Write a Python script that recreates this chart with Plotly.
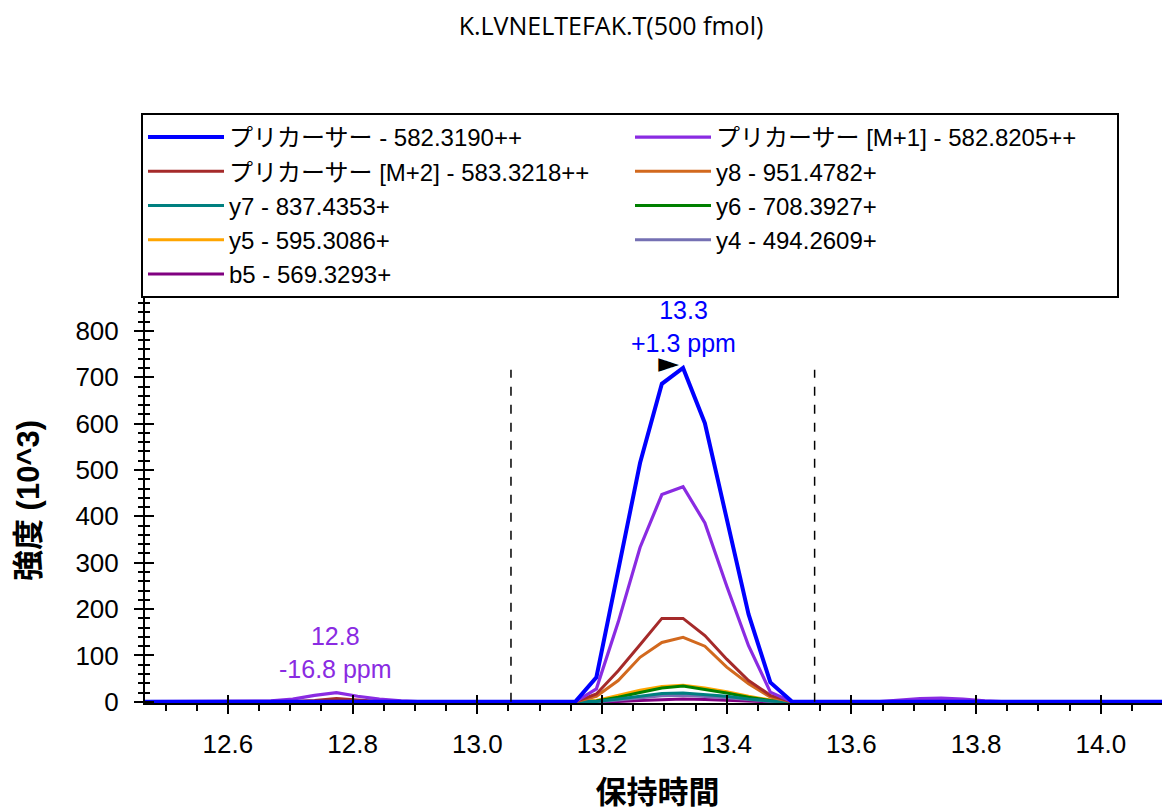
import plotly.graph_objects as go

times = [12.40, 12.669, 12.704, 12.739, 12.774, 12.808, 12.843, 12.878, 12.913,
         13.157, 13.191, 13.226, 13.261, 13.296, 13.330, 13.365, 13.400, 13.435,
         13.470, 13.505, 13.640, 13.675, 13.710, 13.744, 13.779, 13.814, 13.849, 14.20]

precursor = [0, 0, 0, 0, 0, 0, 0, 0, 0,
             0, 53, 279, 515, 686, 720, 601, 393, 189,
             42, 0, 0, 0, 0, 0, 0, 0, 0, 0]
precursor_m1 = [0, 2, 6, 14, 20, 12, 6, 2, 0,
                0, 28, 172, 333, 447, 464, 386, 250, 121,
                21, 0, 0, 3, 7, 8, 6, 2, 0, 0]
precursor_m2 = [0, 0, 1, 3, 7, 4, 1, 0, 0,
                0, 17, 67, 123, 180, 180, 143, 92, 46,
                14, 0, 0, 0, 1, 1, 1, 0, 0, 0]
y8 = [0, 0, 0, 0, 0, 0, 0, 0, 0,
      0, 12, 46, 96, 128, 139, 120, 75, 39,
      10, 0, 0, 0, 0, 0, 0, 0, 0, 0]
y7 = [0, 0, 0, 0, 0, 0, 0, 0, 0,
      0, 1, 6, 12, 18, 19, 16, 12, 6,
      2, 0, 0, 0, 0, 0, 0, 0, 0, 0]
y6 = [0, 0, 0, 0, 0, 0, 0, 0, 0,
      0, 2, 10, 20, 30, 34, 27, 19, 10,
      3, 0, 0, 0, 0, 0, 0, 0, 0, 0]
y5 = [0, 0, 0, 0, 0, 0, 0, 0, 0,
      0, 3, 14, 25, 33, 36, 30, 22, 12,
      4, 0, 0, 0, 0, 0, 0, 0, 0, 0]
y4 = [0, 0, 0, 0, 0, 0, 0, 0, 0,
      0, 0, 4, 9, 13, 14, 12, 9, 5,
      1, 0, 0, 0, 0, 0, 0, 0, 0, 0]
b5 = [0, 0, 0, 0, 0, 0, 0, 0, 0,
      0, 0, 1, 3, 5, 6, 5, 3, 2,
      0, 0, 0, 0, 0, 0, 0, 0, 0, 0]

series_names = ["プリカーサー - 582.3190++", "プリカーサー [M+1] - 582.8205++",
                "プリカーサー [M+2] - 583.3218++", "y8 - 951.4782+",
                "y7 - 837.4353+", "y6 - 708.3927+", "y5 - 595.3086+",
                "y4 - 494.2609+", "b5 - 569.3293+"]
series_values = [precursor, precursor_m1, precursor_m2, y8, y7, y6, y5, y4, b5]
series_colors = ["#0000FF", "#8A2BE2", "#A52A2A", "#D2691E", "#008080",
                 "#008000", "#FFA500", "#7570B3", "#800080"]
series_widths = [4, 3.2, 3, 3, 3, 3, 3, 3, 3]

boundaries = [13.054, 13.541]
boundary_top = 716
apex_time = 13.307
apex_marker_y = 727

annotations_data = [
    (13.330, "13.3<br>+1.3 ppm", "#0000FF", 810),
    (12.773, "12.8<br>-16.8 ppm", "#8A2BE2", 106),
]

FONT = "Liberation Sans, Arial, Noto Sans CJK JP"

# The page adds an 8px body margin, so the figure is 1162x802 to fill 1170x810.
W, H = 1162, 802
OFF = 8

fig = go.Figure()

order = list(range(len(series_names)))[::-1]
for i in order:
    fig.add_trace(go.Scatter(
        x=times, y=series_values[i], mode="lines", name=series_names[i],
        line=dict(color=series_colors[i], width=series_widths[i]),
        legendrank=i + 1, hoverinfo="x+y+name"))

fig.add_trace(go.Scatter(x=[apex_time], y=[apex_marker_y], mode="text", text=["►"],
                         textfont=dict(family="DejaVu Sans", size=27, color="black"),
                         textposition="middle center",
                         showlegend=False, cliponaxis=False, hoverinfo="skip"))

fig.add_trace(go.Scatter(x=[13.0], y=[0], xaxis="x2", yaxis="y2", mode="markers",
                         marker=dict(opacity=0), showlegend=False, hoverinfo="skip"))

for b in boundaries:
    fig.add_shape(type="line", x0=b, x1=b, y0=0, y1=boundary_top, xref="x", yref="y",
                  line=dict(color="black", width=1.5, dash="dash"))

for (tx, txt, col, ty) in annotations_data:
    fig.add_annotation(x=tx, y=ty, xref="x", yref="y", text=txt, showarrow=False,
                       font=dict(family=FONT, size=25, color=col), yanchor="middle",
                       align="center")

xr = [12.467, 14.111]
yr = [-2.5, 871]

fig.update_layout(
    width=W, height=H,
    margin=dict(l=145 - OFF, r=0, t=298 - OFF, b=107, autoexpand=False),
    paper_bgcolor="white", plot_bgcolor="white",
    title=dict(text="K.LVNELTEFAK.T(500 fmol)", x=(611 - OFF) / W, xref="container",
               xanchor="center", y=1 - (26 - OFF) / H, yref="container", yanchor="middle",
               font=dict(family="Open Sans, Noto Sans", size=25, color="black")),
    showlegend=True,
    legend=dict(orientation="h", x=(141 - OFF) / W, xref="container", xanchor="left",
                y=1 - (113 - OFF) / H, yref="container", yanchor="top",
                bordercolor="black", borderwidth=2, bgcolor="white",
                entrywidth=396, itemwidth=76, traceorder="normal",
                font=dict(family=FONT, size=24, color="black")),
    xaxis=dict(range=xr, showgrid=False, zeroline=False, showline=True, linecolor="black",
               linewidth=2, ticks="outside", ticklen=9, tickwidth=2, tickcolor="black",
               tick0=12.6, dtick=0.2, tickformat=".1f", ticklabelstandoff=8,
               automargin=False,
               tickfont=dict(family=FONT, size=26, color="black"),
               minor=dict(dtick=0.05, tick0=12.6, ticks="outside", ticklen=6,
                          tickwidth=1.5, tickcolor="black"),
               title=dict(text="<b>保持時間</b>", standoff=27,
                          font=dict(family=FONT, size=31, color="black"))),
    yaxis=dict(range=yr, showgrid=False, zeroline=False, showline=True, linecolor="black",
               linewidth=2, ticks="outside", ticklen=9, tickwidth=2, tickcolor="black",
               tick0=0, dtick=100, ticklabelstandoff=10, automargin=False,
               tickfont=dict(family=FONT, size=26, color="black"),
               minor=dict(dtick=20, tick0=0, ticks="outside", ticklen=5,
                          tickwidth=1.5, tickcolor="black"),
               title=dict(text="<b>強度 (10^3)</b>", standoff=27,
                          font=dict(family=FONT, size=31, color="black"))),
    xaxis2=dict(range=xr, overlaying="x", anchor="y2", showgrid=False, zeroline=False,
                showline=False, ticks="inside", ticklen=8, tickwidth=2, tickcolor="black",
                tick0=12.6, dtick=0.2, showticklabels=False, automargin=False),
    yaxis2=dict(range=yr, overlaying="y", anchor="x2", showgrid=False, zeroline=False,
                showline=False, ticks="inside", ticklen=9, tickwidth=2, tickcolor="black",
                tick0=0, dtick=100, showticklabels=False, automargin=False,
                minor=dict(dtick=20, tick0=0, ticks="inside", ticklen=5,
                           tickwidth=1.5, tickcolor="black")),
)

fig.write_html("out.html")
